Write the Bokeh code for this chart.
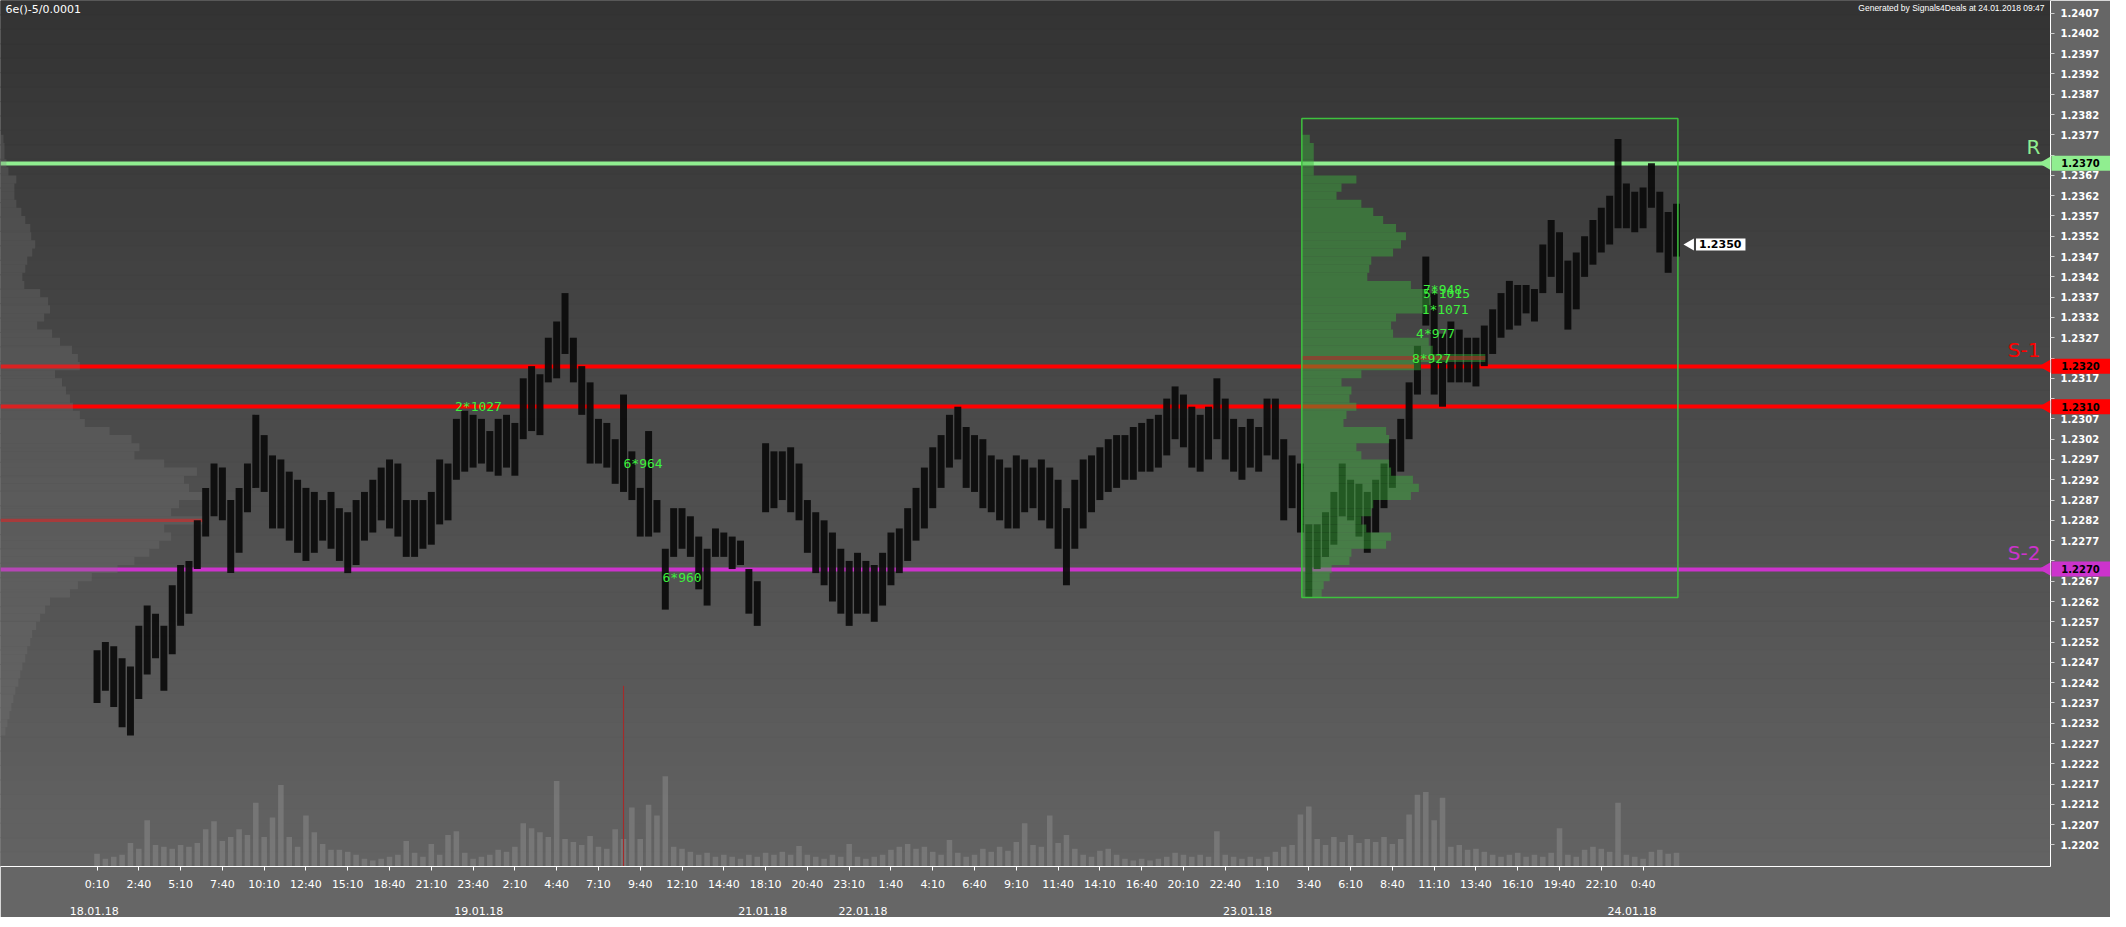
from math import pi
from bokeh.plotting import figure
from bokeh.layouts import row
from bokeh.models import Range1d, LinearAxis, FixedTicker, PrintfTickFormatter, Label
from bokeh.embed import file_html
from bokeh.resources import INLINE
from bokeh.core.properties import value

# ---------------- data ----------------
STEP = 6          # bars between sampled candles (5-minute bars)
TICK_EVERY = 30   # bars between time ticks

highs = [
    1.2250, 1.2252, 1.2251, 1.2248, 1.2246, 1.2256, 1.2261, 1.2259, 1.2256, 1.2266,
    1.2271, 1.2272, 1.2282, 1.2290, 1.2296, 1.2295, 1.2287, 1.2290, 1.2296, 1.2308,
    1.2303, 1.2298, 1.2297, 1.2294, 1.2292, 1.2290, 1.2289, 1.2287, 1.2289, 1.2285,
    1.2284, 1.2287, 1.2289, 1.2292, 1.2295, 1.2297, 1.2296, 1.2287, 1.2287, 1.2287,
    1.2289, 1.2297, 1.2296, 1.2307, 1.2309, 1.2308, 1.2307, 1.2304, 1.2307, 1.2308,
    1.2306, 1.2317, 1.2320, 1.2318, 1.2327, 1.2331, 1.2338, 1.2327, 1.2320, 1.2316,
    1.2307, 1.2306, 1.2302, 1.2313, 1.2299, 1.2290, 1.2304, 1.2287, 1.2275, 1.2285,
    1.2285, 1.2283, 1.2278, 1.2275, 1.2280, 1.2279, 1.2278, 1.2277, 1.2270, 1.2267,
    1.2301, 1.2299, 1.2299, 1.2300, 1.2296, 1.2287, 1.2284, 1.2282, 1.2279, 1.2275,
    1.2272, 1.2274, 1.2272, 1.2271, 1.2274, 1.2279, 1.2280, 1.2285, 1.2290, 1.2295,
    1.2300, 1.2303, 1.2308, 1.2310, 1.2305, 1.2303, 1.2302, 1.2298, 1.2297, 1.2295,
    1.2298, 1.2297, 1.2295, 1.2297, 1.2295, 1.2292, 1.2285, 1.2292, 1.2297, 1.2298,
    1.2300, 1.2302, 1.2303, 1.2303, 1.2305, 1.2306, 1.2307, 1.2308, 1.2312, 1.2315,
    1.2313, 1.2310, 1.2308, 1.2310, 1.2317, 1.2312, 1.2307, 1.2305, 1.2307, 1.2305,
    1.2312, 1.2312, 1.2302, 1.2298, 1.2296, 1.2281, 1.2281, 1.2284, 1.2289, 1.2296,
    1.2292, 1.2291, 1.2289, 1.2292, 1.2296, 1.2302, 1.2307, 1.2316, 1.2325, 1.2347,
    1.2338, 1.2328, 1.2331, 1.2329, 1.2327, 1.2327, 1.2330, 1.2334, 1.2338, 1.2341,
    1.2340, 1.2340, 1.2339, 1.2350, 1.2356, 1.2353, 1.2346, 1.2348, 1.2352, 1.2356,
    1.2359, 1.2362, 1.2376, 1.2365, 1.2363, 1.2364, 1.2370, 1.2363, 1.2358, 1.2360,
]
lows = [
    1.2237, 1.2240, 1.2236, 1.2231, 1.2229, 1.2238, 1.2244, 1.2248, 1.2240, 1.2249,
    1.2256, 1.2259, 1.2270, 1.2278, 1.2283, 1.2282, 1.2269, 1.2274, 1.2284, 1.2290,
    1.2289, 1.2280, 1.2280, 1.2277, 1.2274, 1.2272, 1.2274, 1.2277, 1.2275, 1.2272,
    1.2269, 1.2271, 1.2277, 1.2279, 1.2282, 1.2280, 1.2278, 1.2273, 1.2273, 1.2275,
    1.2276, 1.2281, 1.2282, 1.2292, 1.2294, 1.2295, 1.2296, 1.2294, 1.2293, 1.2295,
    1.2293, 1.2302, 1.2304, 1.2303, 1.2316, 1.2317, 1.2323, 1.2316, 1.2308, 1.2296,
    1.2296, 1.2295, 1.2291, 1.2289, 1.2287, 1.2278, 1.2278, 1.2279, 1.2260, 1.2273,
    1.2275, 1.2273, 1.2265, 1.2261, 1.2273, 1.2273, 1.2270, 1.2271, 1.2259, 1.2256,
    1.2284, 1.2285, 1.2287, 1.2284, 1.2282, 1.2274, 1.2269, 1.2266, 1.2262, 1.2259,
    1.2256, 1.2259, 1.2259, 1.2257, 1.2261, 1.2266, 1.2269, 1.2272, 1.2277, 1.2280,
    1.2285, 1.2290, 1.2295, 1.2297, 1.2290, 1.2289, 1.2285, 1.2284, 1.2282, 1.2280,
    1.2280, 1.2284, 1.2285, 1.2282, 1.2280, 1.2275, 1.2266, 1.2275, 1.2280, 1.2284,
    1.2287, 1.2289, 1.2290, 1.2292, 1.2292, 1.2294, 1.2294, 1.2295, 1.2298, 1.2302,
    1.2300, 1.2295, 1.2294, 1.2297, 1.2302, 1.2297, 1.2294, 1.2292, 1.2295, 1.2294,
    1.2298, 1.2297, 1.2282, 1.2285, 1.2279, 1.2263, 1.2270, 1.2273, 1.2276, 1.2283,
    1.2282, 1.2278, 1.2274, 1.2279, 1.2285, 1.2290, 1.2294, 1.2302, 1.2313, 1.2330,
    1.2313, 1.2310, 1.2316, 1.2316, 1.2316, 1.2315, 1.2320, 1.2323, 1.2327, 1.2329,
    1.2330, 1.2333, 1.2331, 1.2338, 1.2342, 1.2338, 1.2329, 1.2334, 1.2342, 1.2345,
    1.2348, 1.2350, 1.2354, 1.2354, 1.2353, 1.2354, 1.2359, 1.2348, 1.2343, 1.2347,
]
volumes = [
    130, 80, 100, 120, 240, 180, 470, 220, 200, 180,
    220, 200, 240, 380, 460, 260, 300, 380, 320, 650,
    300, 500, 830, 300, 200, 520, 350, 230, 170, 170,
    150, 120, 80, 60, 80, 100, 120, 260, 140, 100,
    230, 120, 320, 360, 140, 80, 100, 120, 170, 150,
    200, 440, 390, 350, 300, 870, 280, 250, 220, 310,
    200, 180, 380, 280, 600, 280, 630, 520, 920, 200,
    180, 150, 120, 140, 100, 120, 100, 80, 120, 100,
    140, 120, 150, 120, 210, 120, 100, 80, 120, 100,
    230, 100, 80, 100, 120, 170, 200, 230, 180, 200,
    150, 120, 270, 140, 100, 120, 180, 150, 200, 160,
    250, 440, 220, 200, 520, 240, 320, 180, 120, 100,
    160, 180, 120, 80, 60, 80, 60, 80, 100, 140,
    120, 100, 120, 100, 360, 120, 100, 80, 100, 80,
    100, 150, 200, 220, 530, 610, 280, 220, 300, 250,
    320, 240, 280, 250, 300, 230, 280, 530, 730, 760,
    470, 700, 200, 220, 170, 180, 150, 120, 100, 120,
    140, 100, 120, 100, 140, 390, 120, 100, 170, 200,
    180, 150, 650, 120, 100, 80, 150, 170, 130, 140,
]
bar_index = [STEP * i for i in range(len(highs))]

time_tick_labels = ["0:10", "2:40", "5:10", "7:40", "10:10", "12:40", "15:10", "18:40",
                    "21:10", "23:40", "2:10", "4:40", "7:10", "9:40", "12:10", "14:40",
                    "18:10", "20:40", "23:10", "1:40", "4:10", "6:40", "9:10", "11:40",
                    "14:10", "16:40", "20:10", "22:40", "1:10", "3:40", "6:10", "8:40",
                    "11:10", "13:40", "16:10", "19:40", "22:10", "0:40"]
date_labels = ["18.01.18", "19.01.18", "21.01.18", "22.01.18", "23.01.18", "24.01.18"]
date_bars = [-2, 274, 478, 550, 826, 1102]

level_prices = [1.2370, 1.2320, 1.2310, 1.2270]
level_names = ["R", "S-1", "", "S-2"]
level_colors = ["#90ee90", "#ff0000", "#ff0000", "#cc33cc"]

# whole-period volume profile (rows of 2 pips from the top row down)
lp_top, lp_row = 1.2376, 0.0002
lp_vol = [30, 40, 40, 60, 80, 160, 140, 140, 160, 210,
          250, 300, 310, 350, 320, 270, 250, 220, 240, 400,
          480, 500, 440, 370, 520, 600, 720, 780, 800, 550,
          620, 660, 700, 730, 800, 850, 1100, 1320, 1400, 1350,
          1650, 1980, 1850, 1900, 2030, 1800, 1720, 2050, 1650, 1720,
          1600, 1500, 1350, 1180, 920, 780, 700, 500, 450, 400,
          360, 320, 300, 270, 250, 220, 200, 180, 150, 130,
          110, 90, 70, 50]
lp_price = [round(lp_top - lp_row * k, 4) for k in range(len(lp_vol))]
all_poc = 1.2282

# session box and its volume profile
box_start_bar, box_end_bar = 865, 1135
box_high, box_low = 1.2381, 1.2263
gp_vol = [80, 120, 120, 120, 120, 550, 400, 350, 600, 720,
          820, 950, 1050, 1000, 920, 700, 680, 660, 1100, 1250,
          1300, 1280, 950, 900, 920, 1280, 1320, 1850, 1200, 600,
          400, 500, 480, 550, 450, 420, 850, 880, 550, 600,
          880, 900, 1120, 1180, 1100, 720, 700, 600, 650, 900,
          850, 500, 480, 300, 280, 220, 200]
gp_price = [round(lp_top - lp_row * k, 4) for k in range(len(gp_vol))]
box_poc = 1.2322

label_texts = ["2*1027", "6*964", "6*960", "7*948", "5*1015", "1*1071", "4*977", "8*927"]
label_bars = [257, 378, 406, 952, 952, 951, 947, 944]
label_prices = [1.2310, 1.2296, 1.2268, 1.2339, 1.2338, 1.2334, 1.2328, 1.2322]

spike_bar, spike_vol = 378, 1840
last_price = 1.2350

y_ticks = [round(1.2202 + 0.0005 * k, 4) for k in range(42)]
hidden_y_ticks = [1.2372, 1.2322, 1.2312, 1.2272]   # covered by the level markers
time_ticks = [TICK_EVERY * k for k in range(len(time_tick_labels))]

# ---------------- figure ----------------
FW, FH = 2050, 866
BOTTOM = 45
x0, x1 = -69.3, 1402.5
y0, y1 = 1.21967, 1.24101
GP_SCALE = 0.0712   # bars per profile unit

p = figure(frame_width=FW, frame_height=FH,
           x_range=Range1d(x0, x1), y_range=Range1d(y0, y1),
           output_backend="svg", toolbar_location=None,
           y_axis_location="right",
           min_border_left=0, min_border_top=0, min_border_right=60, min_border_bottom=BOTTOM,
           background_fill_color="#333333", border_fill_color="#666666",
           outline_line_color=None)
p.xgrid.visible = False
p.ygrid.visible = False
p.extra_x_ranges = {"lp": Range1d(0, 20660)}
p.extra_y_ranges = {"vol": Range1d(0, 8820)}

# background gradient
n_bands = 60
for j in range(n_bands):
    t = j / (n_bands - 1)
    c = int(round(0x63 - t * (0x63 - 0x33)))
    col = "#%02x%02x%02x" % (c, c, c)
    b = y0 + (y1 - y0) * j / n_bands
    tp = y0 + (y1 - y0) * (j + 1) / n_bands
    p.quad(left=x0, right=x1, bottom=b, top=tp, fill_color=col,
           line_color=col, line_width=1)

# volume
p.vbar(x=bar_index, top=volumes, bottom=0, width=4.0, y_range_name="vol",
       fill_color="#8c8c8c", fill_alpha=0.5, line_color=None)
p.vbar(x=[spike_bar], top=[spike_vol], bottom=0, width=0.8, y_range_name="vol",
       fill_color="#a52a2a", line_color=None)

# levels
p.hspan(y=level_prices, line_color=level_colors, line_width=4)

# left profile
p.hbar(y=lp_price, left=0, right=lp_vol, height=lp_row, x_range_name="lp",
       fill_color="#7a7a7a", fill_alpha=0.28, line_color=None)
p.hbar(y=[all_poc], left=0, right=[max(lp_vol)], height=0.00008, x_range_name="lp",
       fill_color="#c03030", fill_alpha=0.75, line_color=None)

# candles
p.vbar(x=bar_index, bottom=lows, top=highs, width=5.0,
       fill_color="#0a0a0a", fill_alpha=0.92, line_color=None)

# box profile
p.hbar(y=gp_price, left=box_start_bar,
       right=[box_start_bar + v * GP_SCALE for v in gp_vol], height=lp_row,
       fill_color="#3cb43c", fill_alpha=0.45, line_color=None)
p.hbar(y=[box_poc], left=box_start_bar, right=[box_start_bar + max(gp_vol) * GP_SCALE],
       height=0.0001, fill_color="#b02828", fill_alpha=0.6, line_color=None)
p.quad(left=[box_start_bar], right=[box_end_bar], bottom=[box_low], top=[box_high],
       fill_color=None, line_color="#3ec23e", line_width=1.5)

# N*volume labels
p.text(x=label_bars, y=label_prices, text=label_texts, text_color="#3df03d",
       text_font=value("DejaVu Sans Mono"), text_font_size="13px",
       text_baseline="middle", text_align="left")

# axes
yax = p.yaxis[0]
yax.ticker = FixedTicker(ticks=y_ticks)
yax.formatter = PrintfTickFormatter(format="%.4f")
yax.major_label_overrides = {t: "" for t in hidden_y_ticks}
yax.major_label_text_color = "white"
yax.major_label_text_font = "DejaVu Sans"
yax.major_label_text_font_style = "bold"
yax.major_label_text_font_size = "10px"
yax.axis_line_color = "white"
yax.major_tick_line_color = "#cccccc"
yax.major_tick_out = 4
yax.major_tick_in = 0
yax.minor_tick_line_color = None
yax.major_label_standoff = 6

xax = p.xaxis[0]
xax.ticker = FixedTicker(ticks=time_ticks)
xax.major_label_overrides = {t: s for t, s in zip(time_ticks, time_tick_labels)}
xax.major_label_text_color = "white"
xax.major_label_text_font = "DejaVu Sans"
xax.major_label_text_font_size = "11px"
xax.axis_line_color = "white"
xax.major_tick_line_color = "white"
xax.major_tick_out = 4
xax.major_tick_in = 0
xax.minor_tick_line_color = None
xax.major_label_standoff = 7

dax = LinearAxis(ticker=FixedTicker(ticks=date_bars),
                 major_label_overrides={t: s for t, s in zip(date_bars, date_labels)},
                 axis_line_color=None, major_tick_line_color=None,
                 minor_tick_line_color=None, major_label_standoff=7,
                 major_label_text_color="white", major_label_text_font="DejaVu Sans",
                 major_label_text_font_size="11px")
p.add_layout(dax, "below")

# level names
for lvl, name, col in zip(level_prices, level_names, level_colors):
    if name:
        p.add_layout(Label(x=FW - 10, y=lvl, x_units="screen", text=name,
                           text_color=col, text_font="DejaVu Sans", text_font_size="20px",
                           text_align="right", text_baseline="bottom", y_offset=4))

# last price marker
last_bar = bar_index[-1]
p.scatter(x=[last_bar + 10], y=[last_price], marker="triangle", size=12, angle=pi / 2,
          fill_color="white", line_color=None)
p.add_layout(Label(x=last_bar + 14, y=last_price, text="%.4f" % last_price,
                   text_color="black", text_font="DejaVu Sans", text_font_style="bold",
                   text_font_size="11px", text_align="left", text_baseline="middle",
                   background_fill_color="white",
                   padding=dict(left=3, right=4, top=2, bottom=2)))

# header texts
p.add_layout(Label(x=5, y=FH - 9, x_units="screen", y_units="screen",
                   text="6e()-5/0.0001", text_color="white", text_font="DejaVu Sans",
                   text_font_size="11px", text_baseline="middle"))
p.add_layout(Label(x=FW - 6, y=FH - 7, x_units="screen", y_units="screen",
                   text="Generated by Signals4Deals at 24.01.2018 09:47",
                   text_color="white", text_font="Liberation Sans",
                   text_font_size="8.5px", text_align="right", text_baseline="middle"))

# ---- level price markers, laid over the right axis strip ----
MW = 72
q = figure(frame_width=MW, frame_height=FH, x_range=Range1d(0, MW), y_range=p.y_range,
           output_backend="svg", toolbar_location=None,
           x_axis_location=None, y_axis_location=None,
           min_border_left=0, min_border_top=0, min_border_right=0, min_border_bottom=BOTTOM,
           background_fill_alpha=0, border_fill_alpha=0, outline_line_color=None)
q.xgrid.visible = False
q.ygrid.visible = False
q.margin = (0, 0, 0, -MW)
q.rect(x=MW - 29.5, y=level_prices, width=59, height=15,
       width_units="screen", height_units="screen",
       fill_color=level_colors, line_color=None)
q.scatter(x=8, y=level_prices, marker="triangle", size=13, angle=pi / 2,
          fill_color=level_colors, line_color=None)
q.text(x=MW - 30, y=level_prices, text=["%.4f" % v for v in level_prices],
       text_color="black", text_font=value("DejaVu Sans"), text_font_style="bold",
       text_font_size="10px", text_align="center", text_baseline="middle")

layout = row(p, q)
open("out.html", "w").write(file_html(layout, INLINE))
